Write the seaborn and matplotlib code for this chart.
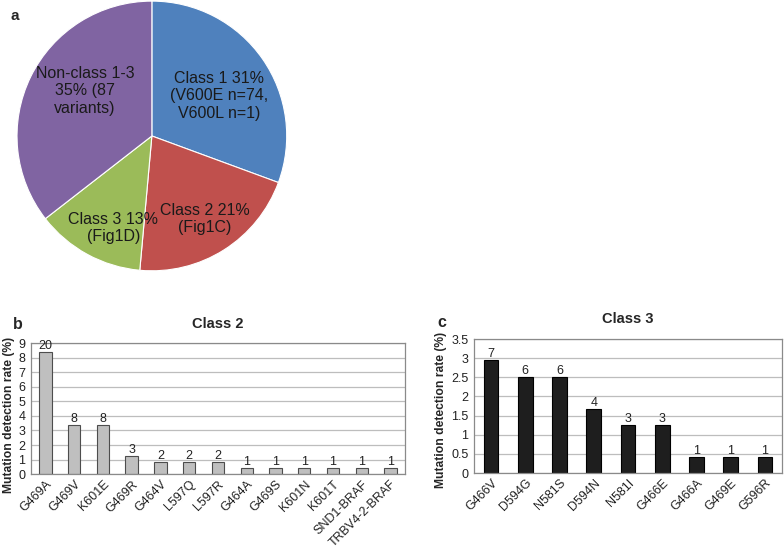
import matplotlib
matplotlib.use('Agg')
import matplotlib.pyplot as plt
import matplotlib.ticker as mticker
import numpy as np
import seaborn as sns

# -- Data ----------------------------------------------------
PIE_LABELS = ['Class 1 31%\n(V600E n=74,\nV600L n=1)',
              'Class 2 21%\n(Fig1C)',
              'Class 3 13%\n(Fig1D)',
              'Non-class 1-3\n35% (87\nvariants)']
PIE_COUNTS = [75, 51, 32, 87]
PIE_COLORS = ['#4F81BD', '#C0504D', '#9BBB59', '#8064A2']

C2_MUT    = ['G469A', 'G469V', 'K601E', 'G469R', 'G464V', 'L597Q', 'L597R',
             'G464A', 'G469S', 'K601N', 'K601T', 'SND1-BRAF', 'TRBV4-2-BRAF']
C2_RATE   = [8.40, 3.36, 3.36, 1.26, 0.84, 0.84, 0.84,
             0.42, 0.42, 0.42, 0.42, 0.42, 0.42]
C2_COUNT  = [20, 8, 8, 3, 2, 2, 2, 1, 1, 1, 1, 1, 1]

C3_MUT    = ['G466V', 'D594G', 'N581S', 'D594N', 'N581I', 'G466E',
             'G466A', 'G469E', 'G596R']
C3_RATE   = [2.94, 2.52, 2.52, 1.68, 1.26, 1.26, 0.42, 0.42, 0.42]
C3_COUNT  = [7, 6, 6, 4, 3, 3, 1, 1, 1]

# -- Style ---------------------------------------------------
sns.set_style('white')
plt.rcParams['font.family'] = ['Liberation Sans', 'DejaVu Sans']

fig = plt.figure(figsize=(7.84, 5.5), dpi=100)

# -- a: pie --------------------------------------------------
ax_a = fig.add_axes([0.0217, 0.5073, 0.344, 0.491])
wedges, _ = ax_a.pie(PIE_COUNTS, colors=PIE_COLORS, startangle=90,
                     counterclock=False,
                     wedgeprops=dict(edgecolor='white', linewidth=0.8))
ax_a.set_xlim(-1, 1)
ax_a.set_ylim(-1, 1)
ax_a.set_aspect('equal')
label_r = [0.58, 0.73, 0.74, 0.60]
label_shift = [-4, 0, 6, -8]
for w, lab, r, sh in zip(wedges, PIE_LABELS, label_r, label_shift):
    ang = np.deg2rad((w.theta1 + w.theta2) / 2 + sh)
    ax_a.text(r * np.cos(ang), r * np.sin(ang), lab, ha='center', va='center',
              fontsize=11.5, color='#1a1a1a', linespacing=1.2)
fig.text(0.014, 0.964, 'a', fontsize=11, fontweight='bold')


def bar_panel(rect, cats, rates, counts, ymax, ystep, color, edge, title,
              letter, letter_xy, title_y, ylab_xy):
    ax = fig.add_axes(rect)
    sns.barplot(x=cats, y=rates, color=color, width=0.43, ax=ax,
                edgecolor=edge, linewidth=0.8, saturation=1)
    ax.set_xlim(-0.5, len(cats) - 0.5)
    ax.set_ylim(0, ymax)
    ax.yaxis.set_major_locator(mticker.MultipleLocator(ystep))
    ax.yaxis.set_major_formatter(mticker.FuncFormatter(lambda v, p: f'{v:g}'))
    ax.grid(axis='y', color='#bdbdbd', linewidth=0.9)
    ax.set_axisbelow(True)
    for s in ax.spines.values():
        s.set_color('#8a8a8a')
        s.set_linewidth(0.9)
    ax.tick_params(axis='both', length=0, labelsize=9, colors='#222222')
    ax.tick_params(axis='y', pad=4)
    plt.setp(ax.get_xticklabels(), rotation=45, ha='right',
             rotation_mode='anchor')
    ax.tick_params(axis='x', pad=3)
    ax.bar_label(ax.containers[0], labels=[str(c) for c in counts],
                 fontsize=9, padding=0, color='#222222')
    ax.set_ylabel('Mutation detection rate (%)', fontsize=8.7,
                  fontweight='bold')
    ax.yaxis.set_label_coords(*ylab_xy)
    ax.set_xlabel('')
    fig.text(rect[0] + rect[2] / 2, title_y, title, ha='center',
             fontsize=10.5, fontweight='bold')
    fig.text(letter_xy[0], letter_xy[1], letter, fontsize=11.5,
             fontweight='bold')
    return ax


bar_panel([0.0395, 0.138, 0.477, 0.238], C2_MUT, C2_RATE, C2_COUNT,
          9, 1, '#bfbfbf', '#4d4d4d', 'Class 2', 'b', (0.017, 0.402), 0.404,
          (-0.044, 0.45))
bar_panel([0.6046, 0.140, 0.393, 0.2436], C3_MUT, C3_RATE, C3_COUNT,
          3.5, 0.5, '#1e1e1e', '#000000', 'Class 3', 'c', (0.558, 0.405), 0.413,
          (-0.088, 0.47))

plt.savefig('out.png', dpi=100)
plt.close()
